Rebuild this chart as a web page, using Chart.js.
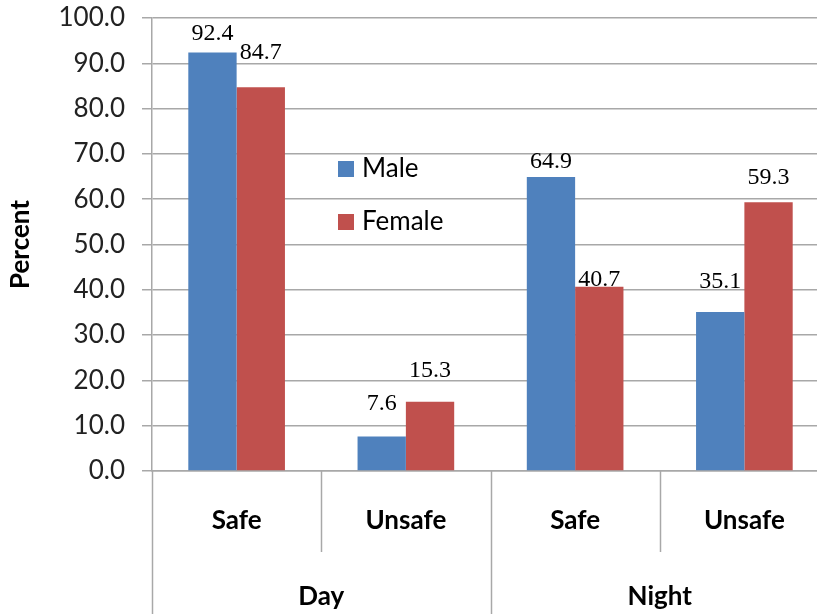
<!DOCTYPE html>
<html>
<head>
<meta charset="utf-8">
<script src="https://cdn.jsdelivr.net/npm/chart.js@4/dist/chart.umd.min.js"></script>
<style>
    html, body { margin: 0; padding: 0; background: #fff; }
    #wrap { width: 817px; height: 614px; overflow: hidden; }
</style>
</head>
<body>
<div id="wrap"><canvas id="myChart" width="835" height="614"></canvas></div>
<script>
// survey answers, split by time of day
var categories = ['Safe', 'Unsafe', 'Safe', 'Unsafe'];
var groups = ['Day', 'Night'];
var male = [92.4, 7.6, 64.9, 35.1];
var female = [84.7, 15.3, 40.7, 59.3];

var gridGray = '#a8a8a8';

// value labels sit at slightly different heights above each bar
var labelPlugin = {
    id: 'valueLabels',
    afterDatasetsDraw: function (chart, args, opts) {
        var ctx = chart.ctx;
        ctx.save();
        ctx.font = opts.font;
        ctx.fillStyle = '#000';
        ctx.textAlign = 'center';
        ctx.textBaseline = 'alphabetic';
        chart.data.datasets.forEach(function (ds, d) {
            chart.getDatasetMeta(d).data.forEach(function (bar, i) {
                ctx.fillText(ds.data[i].toFixed(1), bar.x, bar.y - opts.lift[d][i]);
            });
        });
        ctx.restore();
    }
};

// two-level category axis: separators + Day / Night row
var groupAxisPlugin = {
    id: 'groupAxis',
    afterDraw: function (chart, args, opts) {
        var ctx = chart.ctx;
        var x = chart.scales.x;
        var top = chart.chartArea.bottom;
        var step = x.getPixelForValue(1) - x.getPixelForValue(0);
        ctx.save();
        ctx.strokeStyle = gridGray;
        ctx.lineWidth = 1.5;
        for (var i = 0; i <= categories.length; i++) {
            var bx = Math.round(x.getPixelForValue(0) - step / 2 + i * step) + 0.5;
            var end = (i % 2 === 0) ? chart.height : top + opts.innerLength;
            ctx.beginPath();
            ctx.moveTo(bx, top);
            ctx.lineTo(bx, end);
            ctx.stroke();
        }
        ctx.font = opts.font;
        ctx.fillStyle = '#000';
        ctx.textAlign = 'center';
        ctx.textBaseline = 'middle';
        groups.forEach(function (g, k) {
            var cx = (x.getPixelForValue(k * 2) + x.getPixelForValue(k * 2 + 1)) / 2;
            ctx.fillText(g, cx, opts.y);
        });
        ctx.restore();
    }
};

// legend box placed inside the plot area
var innerLegendPlugin = {
    id: 'innerLegend',
    afterDraw: function (chart, args, opts) {
        var ctx = chart.ctx;
        ctx.save();
        ctx.font = opts.font;
        ctx.textAlign = 'left';
        ctx.textBaseline = 'middle';
        chart.data.datasets.forEach(function (ds, d) {
            var y = opts.y + d * opts.gap;
            ctx.fillStyle = ds.backgroundColor;
            ctx.fillRect(opts.x, y - 8, 16, 16);
            ctx.fillStyle = '#000';
            ctx.fillText(ds.label, opts.x + 24, y);
        });
        ctx.restore();
    }
};

var ctx = document.getElementById('myChart').getContext('2d');

new Chart(ctx, {
    type: 'bar',
    data: {
        labels: categories,
        datasets: [{
            label: 'Male',
            data: male,
            backgroundColor: '#4F81BD',
            categoryPercentage: 0.571,
            barPercentage: 1.0
        }, {
            label: 'Female',
            data: female,
            backgroundColor: '#C0504D',
            categoryPercentage: 0.571,
            barPercentage: 1.0
        }]
    },
    plugins: [labelPlugin, groupAxisPlugin, innerLegendPlugin],
    options: {
        responsive: false,
        animation: false,
        devicePixelRatio: 1,
        layout: { padding: { top: 18, right: 6, left: 0, bottom: 0 } },
        scales: {
            x: {
                grid: { display: true, drawOnChartArea: false, drawTicks: false },
                border: { color: gridGray, width: 1.5 },
                ticks: {
                    color: '#000',
                    padding: 34,
                    font: { family: 'Lato', size: 26, weight: 'bold' }
                },
                afterFit: function (scale) {
                    scale.height = 143;
                    scale.paddingLeft = 0;
                    scale.paddingRight = 0;
                }
            },
            y: {
                min: 0,
                max: 100,
                ticks: {
                    stepSize: 10,
                    color: '#222',
                    padding: 17,
                    font: { family: 'Lato', size: 26 },
                    callback: function (v) { return v.toFixed(1); }
                },
                grid: { color: gridGray, lineWidth: 1.5, tickLength: 10 },
                border: { color: gridGray, width: 1.5 },
                title: {
                    display: true,
                    text: 'Percent',
                    color: '#000',
                    padding: { top: 5, bottom: 0 },
                    font: { family: 'Lato', size: 26, weight: 'bold' }
                },
                afterFit: function (scale) {
                    scale.width = 152;
                    scale.paddingTop = 0;
                    scale.paddingBottom = 0;
                }
            }
        },
        plugins: {
            legend: { display: false },
            tooltip: { enabled: false },
            valueLabels: {
                font: '24px "Liberation Serif"',
                lift: [[12, 27, 9, 24], [28, 25, 1, 18.5]]
            },
            groupAxis: {
                font: 'bold 26px Lato',
                y: 597,
                innerLength: 81
            },
            innerLegend: {
                font: '26px Lato',
                x: 338,
                y: 169,
                gap: 53
            }
        }
    }
});
</script>
</body>
</html>
